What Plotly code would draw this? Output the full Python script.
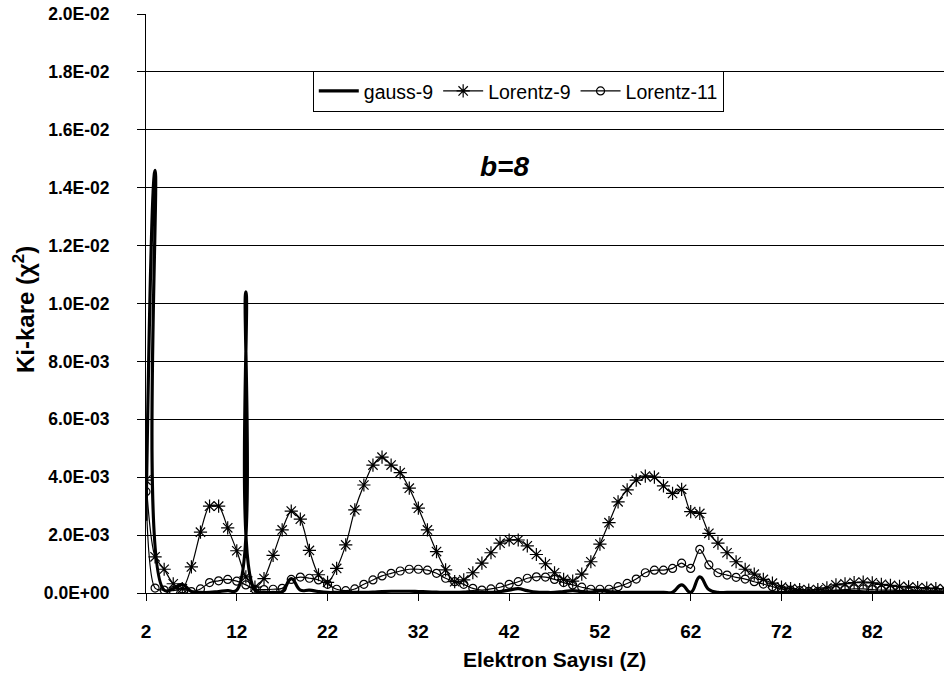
import plotly.graph_objects as go

# Electron number Z
z = list(range(2, 91))

# chi-square values (units of 1E-03)
gauss9 = [2.5, 14.6, 0.1, 0.15, 0.3, 0.05, 0.02, 0.02, 0.05, 0.08,
          0.1, 10.4, 0.1, 0.03, 0.02, 0.05, 0.5, 0.1, 0.1, 0.05,
          0.02, 0.02, 0.02, 0.02, 0.02, 0.03, 0.05, 0.06, 0.06, 0.06,
          0.05, 0.04, 0.03, 0.02, 0.02, 0.03, 0.05, 0.03, 0.02, 0.05,
          0.1, 0.15, 0.08, 0.03, 0.02, 0.02, 0.05, 0.08, 0.05, 0.03,
          0.08, 0.05, 0.02, 0.02, 0.02, 0.02, 0.02, 0.02, 0.03, 0.28,
          0.02, 0.56, 0.12, 0.02, 0.02, 0.02, 0.02, 0.02, 0.02, 0.02,
          0.02, 0.02, 0.02, 0.02, 0.03, 0.04, 0.05, 0.05, 0.05, 0.04,
          0.03, 0.02, 0.02, 0.02, 0.02, 0.02, 0.02, 0.02, 0.02]

lorentz9 = [3.9, 1.25, 0.82, 0.32, 0.15, 0.9, 2.1, 3.0, 3.0, 2.25,
            1.46, 0.56, 0.2, 0.5, 1.3, 2.18, 2.83, 2.55, 1.47, 0.63,
            0.37, 0.85, 1.66, 2.87, 3.73, 4.42, 4.69, 4.42, 4.16, 3.62,
            2.93, 2.18, 1.43, 0.8, 0.39, 0.45, 0.7, 1.03, 1.39, 1.72,
            1.83, 1.83, 1.63, 1.33, 1.01, 0.7, 0.47, 0.41, 0.65, 1.08,
            1.69, 2.43, 3.15, 3.56, 3.9, 4.04, 4.0, 3.7, 3.44, 3.58,
            2.81, 2.75, 2.06, 1.72, 1.39, 1.08, 0.82, 0.65, 0.47, 0.34,
            0.2, 0.15, 0.12, 0.1, 0.12, 0.18, 0.28, 0.32, 0.36, 0.38,
            0.35, 0.3, 0.26, 0.23, 0.21, 0.19, 0.17, 0.15, 0.14]

lorentz11 = [3.5, 0.17, 0.1, 0.08, 0.14, 0.05, 0.14, 0.36, 0.42, 0.47,
             0.41, 0.28, 0.13, 0.12, 0.13, 0.16, 0.47, 0.55, 0.51, 0.45,
             0.3, 0.13, 0.08, 0.14, 0.3, 0.45, 0.59, 0.68, 0.76, 0.82,
             0.82, 0.79, 0.68, 0.51, 0.39, 0.3, 0.16, 0.1, 0.14, 0.2,
             0.3, 0.39, 0.51, 0.56, 0.55, 0.47, 0.36, 0.28, 0.2, 0.13,
             0.13, 0.13, 0.22, 0.33, 0.48, 0.7, 0.79, 0.79, 0.85, 1.03,
             0.85, 1.51, 0.97, 0.7, 0.62, 0.54, 0.48, 0.39, 0.31, 0.22,
             0.13, 0.1, 0.08, 0.06, 0.06, 0.08, 0.1, 0.12, 0.14, 0.14,
             0.12, 0.1, 0.1, 0.09, 0.08, 0.08, 0.07, 0.07, 0.06]

SCALE = 1e-3

y_tickvals = [0.0, 0.002, 0.004, 0.006, 0.008, 0.010, 0.012, 0.014, 0.016, 0.018, 0.020]
y_ticktext = ["0.0E+00", "2.0E-03", "4.0E-03", "6.0E-03", "8.0E-03", "1.0E-02",
              "1.2E-02", "1.4E-02", "1.6E-02", "1.8E-02", "2.0E-02"]
x_tickvals = [2, 12, 22, 32, 42, 52, 62, 72, 82]
x_ticktext = [str(v) for v in x_tickvals]

FONT = "Liberation Sans, Arial, sans-serif"

fig = go.Figure()
fig.add_trace(go.Scatter(
    x=z, y=[v * SCALE for v in gauss9], name="gauss-9", mode="lines",
    line=dict(color="black", width=3.2, shape="spline", smoothing=1.3)))
fig.add_trace(go.Scatter(
    x=z, y=[v * SCALE for v in lorentz9], name="Lorentz-9", mode="lines+markers",
    line=dict(color="black", width=1.2, shape="spline", smoothing=0.8),
    marker=dict(symbol="asterisk-open", size=11, color="black",
                line=dict(color="black", width=1.2))))
fig.add_trace(go.Scatter(
    x=z, y=[v * SCALE for v in lorentz11], name="Lorentz-11", mode="lines+markers",
    line=dict(color="black", width=1.2, shape="spline", smoothing=0.8),
    marker=dict(symbol="circle-open", size=8, color="black",
                line=dict(color="black", width=1.2))))

fig.update_layout(
    width=944, height=675,
    margin=dict(l=146, r=0, t=14, b=82),
    paper_bgcolor="white", plot_bgcolor="white",
    font=dict(family=FONT, color="black"),
    showlegend=True,
    legend=dict(orientation="h", x=0.209, y=0.902, xanchor="left", yanchor="top",
                bgcolor="white", bordercolor="black", borderwidth=1,
                font=dict(family=FONT, size=19.5, color="black"),
                itemwidth=40, tracegroupgap=0),
    xaxis=dict(range=[2, 89.9], tickmode="array", tickvals=x_tickvals, ticktext=x_ticktext,
               showgrid=False, zeroline=False, showline=True, linecolor="black", linewidth=1,
               ticks="outside", ticklen=7, tickcolor="black", tickwidth=1,
               ticklabelstandoff=14,
               tickfont=dict(family=FONT, size=19, color="black", weight="bold")),
    yaxis=dict(range=[0, 0.02], tickmode="array", tickvals=y_tickvals, ticktext=y_ticktext,
               showgrid=True, gridcolor="black", gridwidth=1, zeroline=False,
               showline=True, linecolor="black", linewidth=1,
               ticks="outside", ticklen=8, tickcolor="black", tickwidth=1,
               ticklabelstandoff=24,
               tickfont=dict(family=FONT, size=17.5, color="black", weight="bold")),
    annotations=[
        dict(text="<b><i>b=8</i></b>", xref="paper", yref="paper", x=0.4494, y=0.7363,
             xanchor="center", yanchor="middle", showarrow=False,
             font=dict(family=FONT, size=28, color="black")),
        dict(text="<b>Elektron Sayısı (Z)</b>", xref="paper", yref="paper", x=0.5125, y=-0.1157,
             xanchor="center", yanchor="middle", showarrow=False,
             font=dict(family=FONT, size=21, color="black")),
        dict(text="<b>Ki-kare (χ<sup>2</sup>)</b>", xref="paper", yref="paper", x=-0.152, y=0.49,
             xanchor="center", yanchor="middle", showarrow=False, textangle=-90,
             font=dict(family=FONT, size=24, color="black")),
    ],
)

fig.write_html("out.html")
